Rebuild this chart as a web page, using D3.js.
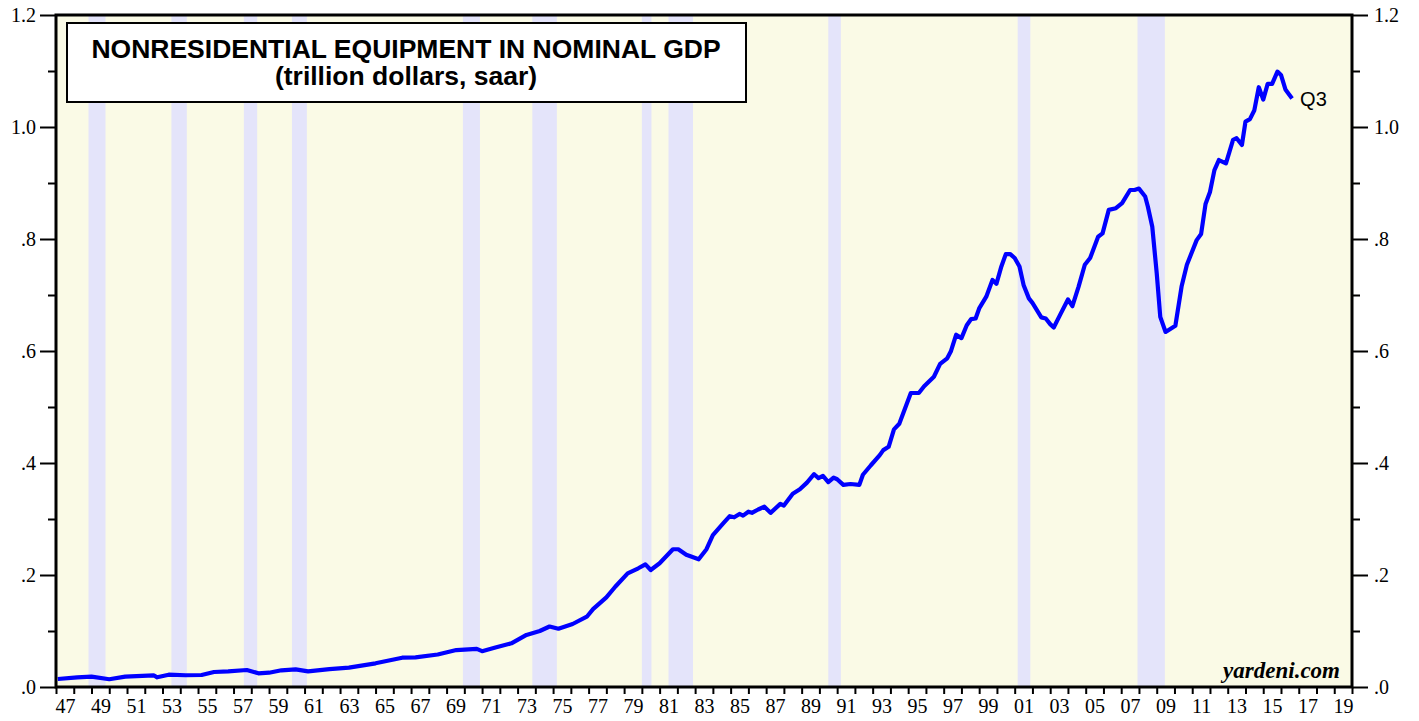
<!DOCTYPE html>
<html>
<head>
<meta charset="utf-8">
<script src="https://cdn.jsdelivr.net/npm/d3@7"></script>
<style>
  body { margin: 0; background: #fff; }
  svg { display: block; }
</style>
</head>
<body>
<div id="chart"></div>
<script>
// quarterly-ish readings (decimal year, trillion dollars)
const dates = [
  1947.1, 1948.2, 1949.0, 1950.0, 1950.9, 1952.5, 1952.7, 1953.35, 1954.3, 1955.2,
  1955.9, 1956.7, 1957.75, 1958.4, 1959.0, 1959.7, 1960.5, 1961.2, 1962.4, 1963.5,
  1965.0, 1966.5, 1967.25, 1968.5, 1969.55, 1970.7, 1971.0, 1971.7, 1972.65, 1973.5,
  1974.25, 1974.8, 1975.3, 1976.1, 1976.9, 1977.25, 1978.0, 1978.5, 1979.2, 1979.8,
  1980.2, 1980.5, 1981.0, 1981.75, 1982.05, 1982.5, 1983.2, 1983.64, 1984.0, 1984.58,
  1984.95, 1985.2, 1985.5, 1985.7, 1986.0, 1986.2, 1986.55, 1986.9, 1987.25, 1987.8,
  1988.0, 1988.5, 1988.9, 1989.3, 1989.7, 1989.95, 1990.2, 1990.5, 1990.8, 1991.0,
  1991.35, 1991.75, 1992.25, 1992.45, 1992.9, 1993.4, 1993.6, 1993.9, 1994.2, 1994.5,
  1995.15, 1995.6, 1995.9, 1996.45, 1996.8, 1997.2, 1997.4, 1997.7, 1998.0, 1998.3,
  1998.55, 1998.8, 1999.0, 1999.4, 1999.75, 1999.97, 2000.25, 2000.5, 2000.75, 2001.0,
  2001.27, 2001.5, 2001.8, 2002.0, 2002.25, 2002.5, 2002.75, 2003.0, 2003.2, 2003.55,
  2004.0, 2004.25, 2004.6, 2004.95, 2005.25, 2005.7, 2005.95, 2006.3, 2006.7, 2007.05,
  2007.5, 2007.75, 2008.0, 2008.35, 2008.5, 2008.75, 2009.0, 2009.2, 2009.5, 2010.05,
  2010.4, 2010.7, 2011.25, 2011.5, 2011.75, 2012.0, 2012.25, 2012.5, 2012.9, 2013.1,
  2013.3, 2013.5, 2013.8, 2014.0, 2014.25, 2014.5, 2014.75, 2015.0, 2015.25, 2015.5,
  2015.8, 2016.0, 2016.25, 2016.625
];
const values = [
  0.0143, 0.0173, 0.0184, 0.0138, 0.0184, 0.0209, 0.0173, 0.022, 0.021, 0.0214,
  0.0268, 0.028, 0.0304, 0.0245, 0.0255, 0.0298, 0.0316, 0.028, 0.032, 0.0345,
  0.0423, 0.0523, 0.053, 0.058, 0.066, 0.068, 0.064, 0.070, 0.078, 0.093,
  0.100, 0.108, 0.104, 0.1125, 0.1255, 0.139, 0.160, 0.179, 0.203, 0.212,
  0.219, 0.209, 0.221, 0.246, 0.246, 0.236, 0.228, 0.246, 0.271, 0.292,
  0.305, 0.303, 0.309, 0.306, 0.313, 0.311, 0.317, 0.322, 0.311, 0.327,
  0.324, 0.345, 0.353, 0.365, 0.380, 0.373, 0.377, 0.366, 0.374, 0.371,
  0.361, 0.3625, 0.361, 0.379, 0.396, 0.414, 0.423, 0.429, 0.460, 0.470,
  0.525, 0.525, 0.537, 0.554, 0.577, 0.587, 0.599, 0.629, 0.623, 0.646,
  0.657, 0.658, 0.676, 0.697, 0.727, 0.720, 0.751, 0.773, 0.773, 0.766,
  0.751, 0.718, 0.694, 0.686, 0.673, 0.660, 0.658, 0.648, 0.642, 0.664,
  0.692, 0.680, 0.715, 0.754, 0.766, 0.804, 0.810, 0.852, 0.855, 0.864,
  0.8875, 0.8875, 0.890, 0.876, 0.858, 0.822, 0.739, 0.661, 0.634, 0.645,
  0.715, 0.754, 0.798, 0.809, 0.8625, 0.884, 0.923, 0.941, 0.935, 0.956,
  0.977, 0.980, 0.968, 1.0095, 1.014, 1.030, 1.071, 1.049, 1.077, 1.077,
  1.099, 1.093, 1.067, 1.051
];

// recessions (start, end as decimal years)
const recessionStart = [1948.83, 1953.5, 1957.58, 1960.29, 1969.92, 1973.83, 1980.0, 1981.5, 1990.5, 2001.17, 2007.92];
const recessionEnd   = [1949.79, 1954.37, 1958.33, 1961.13, 1970.88, 1975.21, 1980.54, 1982.88, 1991.21, 2001.88, 2009.46];

const yTicks = [0, 0.2, 0.4, 0.6, 0.8, 1.0, 1.2];
const yTickLabels = [".0", ".2", ".4", ".6", ".8", "1.0", "1.2"];
const yMinorTicks = [0.1, 0.3, 0.5, 0.7, 0.9, 1.1];
const titleLines = ["NONRESIDENTIAL EQUIPMENT IN NOMINAL GDP", "(trillion dollars, saar)"];

const width = 1419;
const height = 721;
const margin = { top: 15, right: 67, bottom: 34, left: 56 };
const innerWidth = width - margin.left - margin.right;
const innerHeight = height - margin.top - margin.bottom;

const svg = d3.select("#chart")
  .append("svg")
  .attr("width", width)
  .attr("height", height);

const inner = svg.append("g")
  .attr("transform", `translate(${margin.left}, ${margin.top})`);

const xScale = d3.scaleLinear().domain([1947, 2020]).range([0, innerWidth]);
const yScale = d3.scaleLinear().domain([0, 1.2]).range([innerHeight, 0]);

// background
inner.append("rect")
  .attr("width", innerWidth)
  .attr("height", innerHeight)
  .attr("fill", "#fafae6");

// recession bands
inner.append("g")
  .selectAll("rect")
  .data(recessionStart.map((s, i) => [s, recessionEnd[i]]))
  .join("rect")
  .attr("x", d => xScale(d[0]))
  .attr("width", d => xScale(d[1]) - xScale(d[0]))
  .attr("y", 0)
  .attr("height", innerHeight)
  .attr("fill", "#e4e4fa");

// the line
const series = dates.map((d, i) => ({ date: d, value: values[i] }));
const line = d3.line()
  .x(d => xScale(d.date))
  .y(d => yScale(d.value));

inner.append("path")
  .datum(series)
  .attr("d", line)
  .attr("fill", "none")
  .attr("stroke", "#0000ff")
  .attr("stroke-width", 4.2)
  .attr("stroke-linejoin", "round");

const last = series[series.length - 1];
inner.append("text")
  .text("Q3")
  .attr("x", xScale(last.date) + 8)
  .attr("y", yScale(last.value) + 8)
  .attr("font-family", "Liberation Sans, Arial, sans-serif")
  .attr("font-size", 20)
  .attr("fill", "#000");

// title box
const titleBox = svg.append("g");
titleBox.append("rect")
  .attr("x", 67).attr("y", 23)
  .attr("width", 679).attr("height", 79)
  .attr("fill", "#fff")
  .attr("stroke", "#000")
  .attr("stroke-width", 2);
titleBox.selectAll("text")
  .data(titleLines)
  .join("text")
  .text(d => d)
  .attr("x", 406)
  .attr("y", (d, i) => 58 + i * 27)
  .attr("text-anchor", "middle")
  .attr("font-family", "Liberation Sans, Arial, sans-serif")
  .attr("font-weight", "bold")
  .attr("font-size", 26.5)
  .attr("fill", "#000");

// watermark
inner.append("text")
  .text("yardeni.com")
  .attr("x", innerWidth - 12)
  .attr("y", innerHeight - 9)
  .attr("text-anchor", "end")
  .attr("font-family", "Liberation Serif, Times New Roman, serif")
  .attr("font-weight", "bold")
  .attr("font-style", "italic")
  .attr("font-size", 23)
  .attr("fill", "#000");

// axes
const axisFont = "Liberation Serif, Times New Roman, serif";

const styleAxis = g => {
  g.select(".domain").remove();
  g.selectAll(".tick line").attr("stroke", "#000").attr("stroke-width", 2);
  g.selectAll(".tick text")
    .attr("font-family", axisFont)
    .attr("font-size", 20)
    .attr("fill", "#000");
};
// tick-only axes: drop the empty label nodes
const dropText = g => g.selectAll(".tick text").remove();

inner.append("g")
  .call(d3.axisLeft(yScale).tickValues(yTicks).tickSize(16).tickPadding(4)
    .tickFormat((d, i) => yTickLabels[i]))
  .call(styleAxis);
inner.append("g")
  .call(d3.axisLeft(yScale).tickValues(yMinorTicks).tickSize(8))
  .call(styleAxis)
  .call(dropText);

inner.append("g")
  .attr("transform", `translate(${innerWidth}, 0)`)
  .call(d3.axisRight(yScale).tickValues(yTicks).tickSize(16).tickPadding(6)
    .tickFormat((d, i) => yTickLabels[i]))
  .call(styleAxis);
inner.append("g")
  .attr("transform", `translate(${innerWidth}, 0)`)
  .call(d3.axisRight(yScale).tickValues(yMinorTicks).tickSize(8))
  .call(styleAxis)
  .call(dropText);

// bottom: a tick at every year boundary, labels on odd years centred in the year
const yearTicks = d3.range(1947, 2021);
const labelYears = d3.range(1947, 2020, 2);

inner.append("g")
  .attr("transform", `translate(0, ${innerHeight})`)
  .call(d3.axisBottom(xScale).tickValues(yearTicks).tickSize(7))
  .call(styleAxis)
  .call(dropText);
inner.append("g")
  .attr("transform", `translate(0, ${innerHeight})`)
  .call(d3.axisBottom(xScale).tickValues(labelYears.map(y => y + 0.5)).tickSize(0).tickPadding(12)
    .tickFormat(d => String(Math.floor(d) % 100).padStart(2, "0")))
  .call(styleAxis)
  .call(g => g.selectAll(".tick line").remove());

// plot frame
inner.append("rect")
  .attr("width", innerWidth)
  .attr("height", innerHeight)
  .attr("fill", "none")
  .attr("stroke", "#000")
  .attr("stroke-width", 3);
</script>
</body>
</html>
